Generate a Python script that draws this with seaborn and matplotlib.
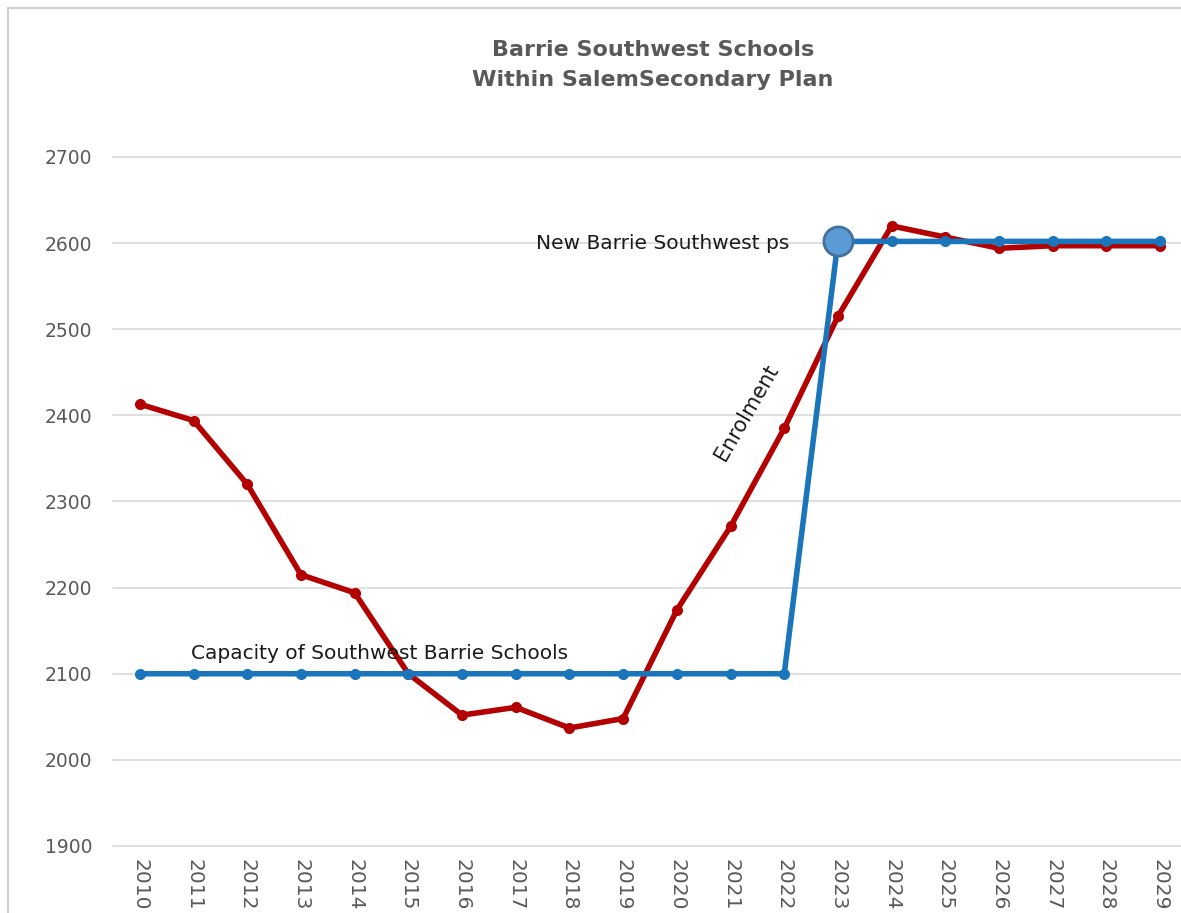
import matplotlib
matplotlib.use("Agg")
import matplotlib.pyplot as plt
import seaborn as sns
import pandas as pd
from matplotlib.patches import Rectangle

years = list(range(2010, 2030))
enrolment = [2413, 2394, 2320, 2215, 2194, 2100, 2052, 2061, 2037, 2048,
             2174, 2271, 2385, 2515, 2620, 2607, 2594, 2597, 2597, 2597]
capacity = [2100] * 13 + [2602] * 7
yticks = [1900, 2000, 2100, 2200, 2300, 2400, 2500, 2600, 2700]

sns.set_theme(style="white")
plt.rcParams['font.family'] = ['DejaVu Sans']

df = pd.DataFrame({"Year": years, "Enrolment": enrolment, "Capacity": capacity})

fig = plt.figure(figsize=(11.81, 9.13), dpi=100)
ax = fig.add_axes([113/1181, 1 - 846/913, (1187 - 113)/1181, (846 - 157)/913])

for y in yticks:
    ax.axhline(y, color="#d9d9d9", lw=1.2, zorder=0, clip_on=False)

sns.lineplot(data=df, x="Year", y="Enrolment", ax=ax, color="#b30000", lw=4,
             marker="o", markersize=8, markeredgewidth=0, zorder=3)
sns.lineplot(data=df, x="Year", y="Capacity", ax=ax, color="#1b75bb", lw=4,
             marker="o", markersize=8, markeredgewidth=0, zorder=4)
ax.plot([years[13]], [capacity[13]], marker="o", markersize=21,
        markerfacecolor="#5b9bd5", markeredgecolor="#41719c", markeredgewidth=2,
        linestyle="none", zorder=5)

ax.set_xlim(2009.5, 2029.5)
ax.set_ylim(1900, 2700)
ax.set_yticks(yticks)
ax.set_xticks(years)
ax.set_xticklabels([str(y) for y in years], rotation=-90, va="top", ha="center")
ax.tick_params(axis="both", colors="#595959", length=0)
ax.tick_params(axis="y", pad=15, labelsize=13.5)
ax.tick_params(axis="x", pad=9, labelsize=14.5)
ax.set_xlabel("")
ax.set_ylabel("")
for s in ax.spines.values():
    s.set_visible(False)

ax.text(2022.1, 2600, "New Barrie Southwest ps", ha="right", va="center",
        fontsize=14.5, color="#1a1a1a")
ax.text(2010.95, 2112, "Capacity of Southwest Barrie Schools", ha="left", va="bottom",
        fontsize=14.5, color="#1a1a1a")
ax.text(2021.3, 2403, "Enrolment", ha="center", va="center", rotation=60,
        fontsize=15, color="#1a1a1a")

fig.text(653/1181, 1 - 50/913, "Barrie Southwest Schools", ha="center", va="center",
         fontsize=16, fontweight="bold", color="#595959")
fig.text(653/1181, 1 - 80/913, "Within SalemSecondary Plan", ha="center", va="center",
         fontsize=16, fontweight="bold", color="#595959")

fig.patches.append(Rectangle((8/1181, -0.2), 1.2, 1.2 - 8/913, transform=fig.transFigure,
                             fill=False, edgecolor="#d0d0d0", lw=1.5, zorder=-1))

fig.savefig("out.png", dpi=100)
